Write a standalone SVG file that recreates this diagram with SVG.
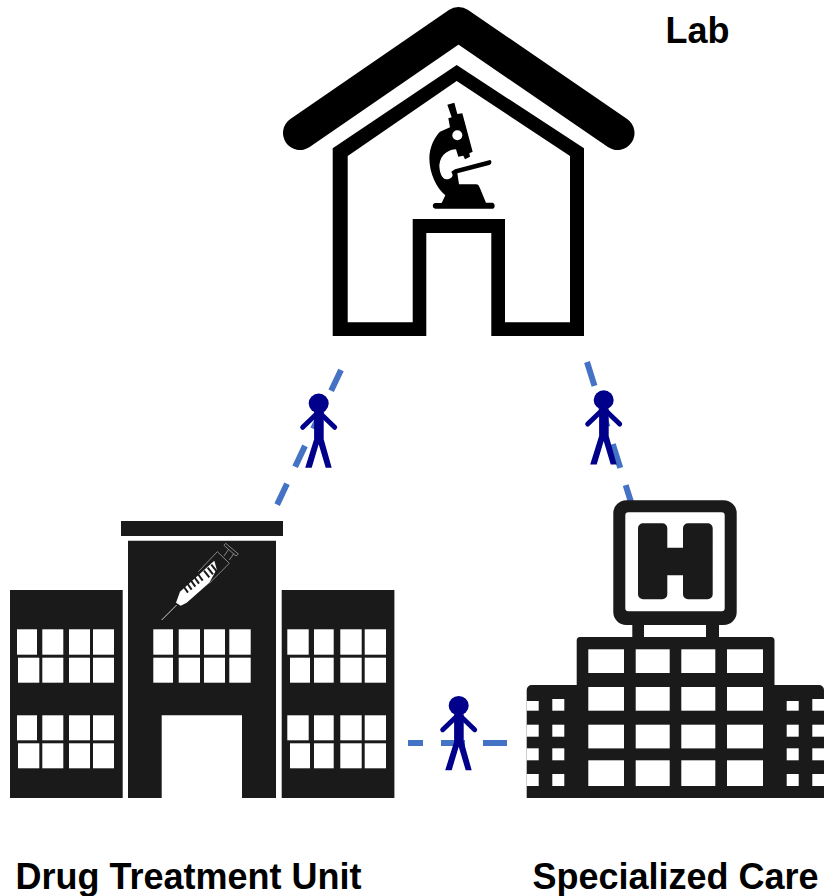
<svg xmlns="http://www.w3.org/2000/svg" width="824" height="896" viewBox="0 0 824 896">
<style>
.bld{fill:#1a1a1a}
.win{fill:#fff}
.lnk{fill:none;stroke:#4472c4;stroke-width:6}
.lbl{font-family:"Liberation Sans",Arial,sans-serif;font-weight:bold;font-size:36px;fill:#000}
.limb{fill:none;stroke:#00008b;stroke-width:5}
</style>
<defs>
<g id="person">
<ellipse cx="0" cy="0" rx="10" ry="9.7" fill="#00008b"/>
<path class="limb" stroke-linecap="round" d="M-16,24L-3,11.5M16,24L3,11.5"/>
<path d="M-4.6,8.5H5V36L13,64.5H7L0,41L-7,64.5H-13.5L-4.6,36Z" fill="#00008b"/>
</g>
</defs>
<rect width="824" height="896" fill="#fff"/>
<g id="connectors">
<path class="lnk" stroke-dasharray="23 19" d="M341,370L276,507"/>
<path class="lnk" stroke-dasharray="25 18" d="M587,362L631,502"/>
<path class="lnk" stroke-dasharray="24 18" d="M507,743H408"/>
</g>
<g id="lab">
<path d="M300,133L458.5,24L617.5,133" fill="none" stroke="#000" stroke-width="34" stroke-linecap="round" stroke-linejoin="round"/>
<path fill-rule="evenodd" d="M332.7,148.3L456.7,65L584,148.3V336H491.3V233H426.3V336H332.7ZM347.7,156V322.3H412.7V219H505V322.3H570V156L456.7,81Z"/>
<g transform="translate(400,90) scale(.33333)">
<path d="M142,44L163,38L172,72L187,70L218,185L208,190L210,200L195,208L190,197L175,200L168,178C150,178 122,190 118,225C118,245 125,268 140,268C150,268 157,262 158,255L154,245L165,238L270,210C276,212 276,222 268,225L172,250L177,283L228,283C235,283 237,288 240,295L258,338L278,338C286,340 286,355 278,356L106,356C96,355 96,340 106,339L125,339L136,316C110,295 88,250 88,205C88,170 105,140 120,125L150,112L145,85L155,82Z"/>
<circle cx="172" cy="136" r="15" fill="#fff"/>
</g>
<text class="lbl" x="665.5" y="42.5">Lab</text>
</g>
<g id="drug-treatment-unit">
<rect class="bld" x="121" y="521" width="162" height="15"/>
<path class="bld" d="M128,540.7H276V798H242V715.3H161.7V798H128Z"/>
<rect class="bld" x="10" y="590" width="112.7" height="208"/>
<rect class="bld" x="281.7" y="590" width="112.7" height="208"/>
<g class="win">
<rect x="17" y="629.3" width="20" height="25.4"/><rect x="42.3" y="629.3" width="21" height="25.4"/><rect x="69" y="629.3" width="21" height="25.4"/><rect x="93" y="629.3" width="21" height="25.4"/>
<rect x="18" y="657.7" width="21.3" height="25"/><rect x="42.3" y="657.7" width="21" height="25"/><rect x="69" y="657.7" width="21" height="25"/><rect x="93" y="657.7" width="21" height="25"/>
<rect x="17" y="715.3" width="20" height="25"/><rect x="42.3" y="715.3" width="21" height="25"/><rect x="69" y="715.3" width="21" height="25"/><rect x="93" y="715.3" width="21" height="25"/>
<rect x="18" y="743.3" width="21.3" height="25"/><rect x="42.3" y="743.3" width="21" height="25"/><rect x="69" y="743.3" width="21" height="25"/><rect x="93" y="743.3" width="21" height="25"/>
<rect x="153.3" y="629.3" width="19.7" height="25.4"/><rect x="178.7" y="629.3" width="21.3" height="25.4"/><rect x="204" y="629.3" width="21" height="25.4"/><rect x="229.3" y="629.3" width="21.4" height="25.4"/>
<rect x="153.3" y="657.7" width="19.7" height="25"/><rect x="178.7" y="657.7" width="21.3" height="25"/><rect x="204" y="657.7" width="21" height="25"/><rect x="229.3" y="657.7" width="21.4" height="25"/>
<rect x="287.3" y="629.3" width="21.4" height="25.4"/><rect x="314" y="629.3" width="19.7" height="25.4"/><rect x="340.3" y="629.3" width="21.4" height="25.4"/><rect x="364.7" y="629.3" width="21.3" height="25.4"/>
<rect x="290" y="657.7" width="20" height="25"/><rect x="314" y="657.7" width="19.7" height="25"/><rect x="340.3" y="657.7" width="21.4" height="25"/><rect x="364.7" y="657.7" width="21.3" height="25"/>
<rect x="287.3" y="715.3" width="21.4" height="25"/><rect x="314" y="715.3" width="19.7" height="25"/><rect x="340.3" y="715.3" width="21.4" height="25"/><rect x="364.7" y="715.3" width="21.3" height="25"/>
<rect x="290" y="743.3" width="20" height="25"/><rect x="314" y="743.3" width="19.7" height="25"/><rect x="340.3" y="743.3" width="21.4" height="25"/><rect x="364.7" y="743.3" width="21.3" height="25"/>
</g>
<g transform="translate(160,540) scale(.33333)">
<path d="M5,240L50,195" stroke="#ccc" stroke-width="3" fill="none"/>
<path d="M60,155L163,62L170,88L148,128L80,188L62,197L48,188Z" fill="#fff"/>
<path d="M172,35L115,95M172,35L208,70L148,130M192,48L206,28M208,60L222,40" stroke="#888" stroke-width="3" fill="none"/>
<path d="M197,10L235,42L228,48L192,16Z" stroke="#888" stroke-width="3" fill="none"/>
<path d="M70,138L84,158M81,129L95,149M92,120L106,140M103,111L117,131M114,102L128,122M132,92L148,112M143,83L159,103M154,74L170,94" stroke="#1a1a1a" stroke-width="6" fill="none"/>
</g>
<text class="lbl" x="15.5" y="889">Drug Treatment Unit</text>
</g>
<g id="specialized-care">
<path class="bld" fill-rule="evenodd" d="M626.3,500.3H723.7A13,13 0 0 1 736.7,513.3V612A13,13 0 0 1 723.7,625H626.3A13,13 0 0 1 613.3,612V513.3A13,13 0 0 1 626.3,500.3ZM628.3,512.3A3,3 0 0 0 625.3,515.3V608.3A3,3 0 0 0 628.3,611.3H721.7A3,3 0 0 0 724.7,608.3V515.3A3,3 0 0 0 721.7,512.3Z"/>
<path class="bld" d="M643,523.3H662.3A5,5 0 0 1 667.3,528.3V547.7H683V528.3A5,5 0 0 1 688,523.3H707.7A5,5 0 0 1 712.7,528.3V594.3A5,5 0 0 1 707.7,599.3H688A5,5 0 0 1 683,594.3V575.3H667.3V594.3A5,5 0 0 1 662.3,599.3H643A5,5 0 0 1 638,594.3V528.3A5,5 0 0 1 643,523.3Z"/>
<rect class="bld" x="632.3" y="624" width="11.7" height="15"/>
<rect class="bld" x="706" y="624" width="13" height="15"/>
<path class="bld" d="M580,637H771A3.5,3.5 0 0 1 774.5,640.5V685H819A5,5 0 0 1 824,690V798H526.7V690A5,5 0 0 1 531.7,685H576.7V640.5A3.5,3.5 0 0 1 580,637Z"/>
<g class="win">
<rect x="588.3" y="649.3" width="35.7" height="23.7"/><rect x="635.7" y="649.3" width="34" height="23.7"/><rect x="681.3" y="649.3" width="34" height="23.7"/><rect x="727" y="649.3" width="36" height="23.7"/>
<rect x="588.3" y="687" width="35.7" height="23.7"/><rect x="635.7" y="687" width="34" height="23.7"/><rect x="681.3" y="687" width="34" height="23.7"/><rect x="727" y="687" width="36" height="23.7"/>
<rect x="588.3" y="724.7" width="35.7" height="23.7"/><rect x="635.7" y="724.7" width="34" height="23.7"/><rect x="681.3" y="724.7" width="34" height="23.7"/><rect x="727" y="724.7" width="36" height="23.7"/>
<rect x="588.3" y="760.3" width="35.7" height="25.7"/><rect x="635.7" y="760.3" width="34" height="25.7"/><rect x="681.3" y="760.3" width="34" height="25.7"/><rect x="727" y="760.3" width="36" height="25.7"/>
<rect x="552.3" y="699" width="12" height="11.7"/><rect x="552.3" y="724.7" width="12" height="12"/><rect x="552.3" y="748.3" width="12" height="12"/><rect x="552.3" y="774" width="12" height="12"/>
<rect x="526.7" y="701" width="12" height="9.7"/><rect x="526.7" y="724.7" width="12" height="12"/><rect x="526.7" y="748.3" width="12" height="12"/><rect x="526.7" y="774" width="12" height="12"/>
<rect x="786.7" y="701" width="12" height="9.7"/><rect x="786.7" y="724.7" width="12" height="12"/><rect x="786.7" y="748.3" width="12" height="12"/><rect x="786.7" y="774" width="12" height="12"/>
<rect x="812.3" y="699" width="11.7" height="11.7"/><rect x="812.3" y="724.7" width="11.7" height="12"/><rect x="812.3" y="748.3" width="11.7" height="12"/><rect x="812.3" y="774" width="11.7" height="12"/>
</g>
<text class="lbl" x="532.5" y="889">Specialized Care</text>
</g>
<g id="person-left"><use href="#person" x="318.7" y="403.3"/></g>
<g id="person-right"><use href="#person" x="603.7" y="400"/></g>
<g id="person-bottom"><use href="#person" x="458.7" y="705.7"/></g>
</svg>
